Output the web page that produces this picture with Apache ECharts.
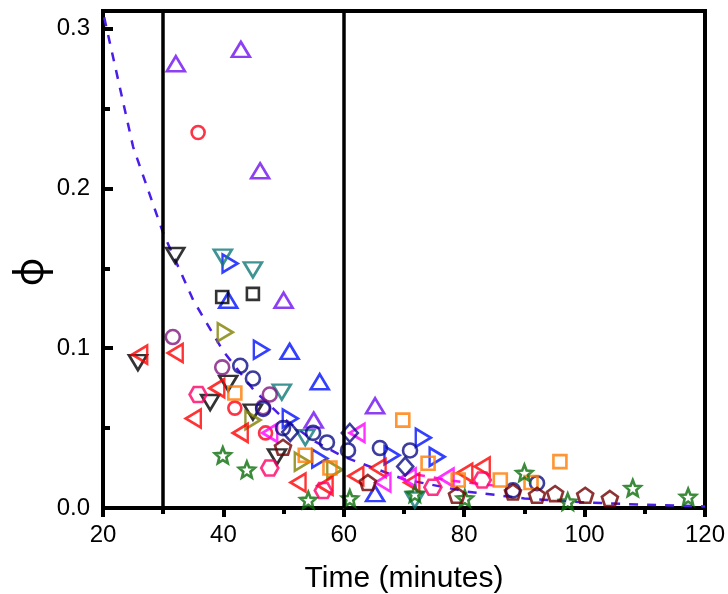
<!DOCTYPE html>
<html>
<head>
<meta charset="utf-8">
<script src="https://cdn.jsdelivr.net/npm/echarts@6/dist/echarts.min.js"></script>
<style>
  html, body { margin: 0; padding: 0; background: #fff; }
  #chart { width: 728px; height: 594px; }
</style>
</head>
<body>
<div id="chart"></div>
<script>
// Time (minutes) vs φ measurements, one array of [time, φ] pairs per marker set
const violetUp     = [[32.1,0.278],[42.9,0.287],[46.1,0.211],[50.0,0.130],[55.0,0.055],[65.2,0.064]];
const redCircle    = [[35.8,0.235],[41.9,0.0625],[47.0,0.047]];
const blueUp       = [[40.8,0.130],[51.0,0.098],[56.0,0.079],[65.2,0.009]];
const blueRight    = [[41.1,0.153],[46.3,0.099],[51.1,0.056],[56.0,0.031],[68.0,0.033],[73.2,0.044],[75.5,0.032]];
const tealDown     = [[39.9,0.157],[44.9,0.149],[49.7,0.0725],[53.6,0.044],[71.8,0.005]];
const blackDown    = [[25.8,0.091],[32.0,0.158],[37.8,0.066],[40.8,0.078],[44.9,0.060],[48.9,0.032]];
const blackSquare  = [[39.8,0.132],[44.9,0.134]];
const oliveRight   = [[40.3,0.110],[44.9,0.055],[53.1,0.029],[58.5,0.024]];
const purpleCircle = [[31.6,0.107],[39.8,0.088],[46.6,0.063],[47.7,0.071]];
const redLeft      = [[26.1,0.096],[32.0,0.097],[35.0,0.056],[38.9,0.075],[42.8,0.047],[52.4,0.016],[56.9,0.014],
                      [62.0,0.020],[65.7,0.025],[71.3,0.016],[80.1,0.022],[83.0,0.026]];
const pinkHex      = [[35.8,0.071],[47.7,0.025],[56.6,0.011],[74.8,0.013],[83.0,0.0175]];
const magentaLeft  = [[47.7,0.047],[62.2,0.047],[66.5,0.016],[70.7,0.019],[77.0,0.019]];
const navyCircle   = [[42.8,0.089],[44.9,0.081],[46.6,0.062],[49.9,0.050],[54.9,0.047],[57.2,0.041],[60.7,0.036],
                      [66.0,0.0375],[71.0,0.036],[88.1,0.011],[92.1,0.0155]];
const navyDiamond  = [[51.1,0.0475],[61.0,0.047],[70.2,0.026]];
const orangeSquare = [[41.9,0.072],[53.6,0.033],[57.7,0.025],[69.8,0.055],[74.0,0.028],[79.0,0.0175],[86.0,0.0175],
                      [91.1,0.016],[95.9,0.029]];
const greenStar    = [[39.9,0.033],[43.9,0.024],[54.1,0.005],[61.0,0.006],[71.8,0.009],[80.1,0.006],[90.0,0.022],
                      [97.2,0.004],[108.0,0.0125],[117.2,0.007]];
const darkRedPent  = [[49.9,0.038],[64.0,0.016],[78.8,0.008],[88.1,0.010],[92.1,0.008],[95.1,0.009],[100.1,0.008],[104.2,0.006]];

// decay fit curves
const fitMain = [[20.2,0.307],[25,0.226],[30,0.172],[35,0.130],[40,0.098],[45,0.074],[50,0.056],[55,0.042],
                 [60,0.032],[70,0.018],[80,0.0105],[90,0.006],[100,0.0035],[110,0.002],[120,0.001]];
const fitAlt  = [[72,0.021],[78,0.017],[85,0.014]];

// phase boundaries (minutes)
const boundaries = [30, 60];

const xTicks = { min: 20, max: 120, step: 20 };
const yTicks = { min: 0, max: 0.311, step: 0.1 };

// marker shapes
const SHAPES = {
  up: 'path://M5,0 L10,9 L0,9 Z',
  down: 'path://M0,0 L10,0 L5,9 Z',
  right: 'path://M0,0 L9,5 L0,10 Z',
  left: 'path://M9,0 L0,5 L9,10 Z',
  star: 'path://M10,0 L12.6,6.4 L19.5,6.9 L14.2,11.4 L15.9,18.1 L10,14.5 L4.1,18.1 L5.8,11.4 L0.5,6.9 L7.4,6.4 Z',
  pent: 'path://M10,0 L19.5,6.9 L15.9,18.1 L4.1,18.1 L0.5,6.9 Z',
  hex: 'path://M5,0 L15,0 L20,8.66 L15,17.32 L5,17.32 L0,8.66 Z'
};

function markers(name, data, symbol, color, size) {
  return {
    name, type: 'scatter', data, symbol, symbolSize: size,
    itemStyle: { color: 'rgba(255,255,255,0)', borderColor: color, borderWidth: 2.6 },
    z: 3
  };
}

const series = [
  {
    name: 'fit', type: 'line', data: fitMain, showSymbol: false, symbol: 'none',
    lineStyle: { color: '#4a1ee8', width: 2.5, type: [9, 9] }, z: 2,
    markLine: {
      silent: true, symbol: ['none', 'none'], label: { show: false },
      lineStyle: { color: '#000', width: 3.5, type: 'solid' },
      data: boundaries.map(v => ({ xAxis: v }))
    }
  },
  {
    name: 'fit2', type: 'line', data: fitAlt, showSymbol: false, symbol: 'none',
    lineStyle: { color: '#ff20e0', width: 2.5, type: [9, 9] }, z: 2
  },
  markers('violetUp', violetUp, SHAPES.up, '#7010f0', [18, 15]),
  markers('redCircle', redCircle, 'circle', '#ff0018', 13),
  markers('blueUp', blueUp, SHAPES.up, '#0010ff', [18, 15]),
  markers('blueRight', blueRight, SHAPES.right, '#0010ff', [15, 18]),
  markers('tealDown', tealDown, SHAPES.down, '#107878', [18, 15]),
  markers('blackDown', blackDown, SHAPES.down, '#000000', [18, 15]),
  markers('blackSquare', blackSquare, 'rect', '#000000', 12),
  markers('oliveRight', oliveRight, SHAPES.right, '#808000', [15, 18]),
  markers('purpleCircle', purpleCircle, 'circle', '#801880', 14),
  markers('redLeft', redLeft, SHAPES.left, '#ff0000', [15, 18]),
  markers('pinkHex', pinkHex, SHAPES.hex, '#ff0068', [17, 15]),
  markers('magentaLeft', magentaLeft, SHAPES.left, '#ff00ff', [15, 18]),
  markers('navyCircle', navyCircle, 'circle', '#0c0c88', 14),
  markers('navyDiamond', navyDiamond, 'diamond', '#0c0c88', [16, 18]),
  markers('orangeSquare', orangeSquare, 'rect', '#ff7a00', 13),
  markers('greenStar', greenStar, SHAPES.star, '#0a6e0a', [16, 16]),
  markers('darkRedPent', darkRedPent, SHAPES.pent, '#700000', [16, 15])
];

const chart = echarts.init(document.getElementById('chart'), null, { renderer: 'canvas' });
chart.setOption({
  animation: false,
  backgroundColor: '#fff',
  grid: {
    left: 103, right: 23, top: 11, bottom: 86,
    outerBoundsMode: 'none', containLabel: false,
    show: true, borderColor: '#000', borderWidth: 4, backgroundColor: 'transparent'
  },
  xAxis: {
    type: 'value', min: xTicks.min, max: xTicks.max, interval: xTicks.step,
    name: 'Time (minutes)', nameLocation: 'middle', nameGap: 56,
    nameTextStyle: { fontFamily: 'Liberation Sans', fontSize: 30, color: '#000' },
    axisLine: { show: true, lineStyle: { color: '#000', width: 4 } },
    axisTick: { show: true, inside: false, length: 9, lineStyle: { color: '#000', width: 4 } },
    minorTick: { show: true, splitNumber: 2, length: 6, lineStyle: { color: '#000', width: 4 } },
    axisLabel: { fontFamily: 'Liberation Sans', fontSize: 24, color: '#000', margin: 15 },
    splitLine: { show: false }
  },
  yAxis: {
    type: 'value', min: yTicks.min, max: yTicks.max, interval: yTicks.step,
    axisLine: { show: true, lineStyle: { color: '#000', width: 4 } },
    axisTick: { show: true, inside: true, length: 10, lineStyle: { color: '#000', width: 4 } },
    minorTick: { show: true, splitNumber: 2, length: 7, lineStyle: { color: '#000', width: 4 } },
    axisLabel: {
      fontFamily: 'Liberation Sans', fontSize: 24, color: '#000', margin: 13,
      showMaxLabel: false, formatter: v => v.toFixed(1)
    },
    splitLine: { show: false }
  },
  // y-axis title, turned on its side
  graphic: [{
    type: 'text', x: 32, y: 272, rotation: Math.PI / 2,
    style: {
      text: 'φ', fontFamily: 'Noto Sans', fontSize: 40, fill: '#000',
      align: 'center', verticalAlign: 'middle'
    }
  }],
  series
});
</script>
</body>
</html>
